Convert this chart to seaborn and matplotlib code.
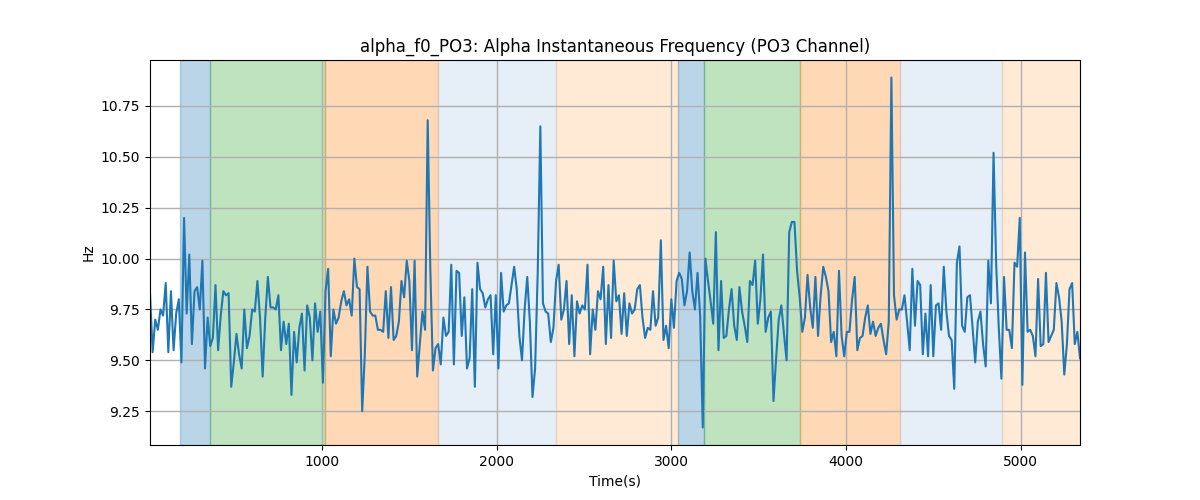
import seaborn as sns
import matplotlib
matplotlib.use("Agg")
import matplotlib.pyplot as plt
import numpy as np
import pandas as pd

# sampling step of the frequency estimate (s)
step = 15

freq = [
    # 0 - 660 s
    9.83, 9.54, 9.70, 9.65, 9.75, 9.72, 9.88, 9.54, 9.84, 9.55, 9.73, 9.80, 9.49, 10.20, 9.73, 10.02,
    9.58, 9.84, 9.86, 9.75, 9.99, 9.46, 9.71, 9.57, 9.61, 9.87, 9.55, 9.72, 9.84, 9.82, 9.83, 9.37,
    9.49, 9.63, 9.53, 9.46, 9.75, 9.56, 9.62, 9.75, 9.74, 9.89, 9.71, 9.42,
    9.71, 9.91, 9.76, 9.76, 9.75, 9.82, 9.55, 9.69, 9.58, 9.68, 9.33, 9.64, 9.49, 9.66, 9.73, 9.45,
    9.77, 9.71, 9.50, 9.78, 9.64, 9.74, 9.39, 9.84, 9.95, 9.52, 9.75, 9.68, 9.71, 9.79, 9.84, 9.77,
    9.80, 9.72, 10.00, 9.86, 9.85, 9.25, 9.53, 9.96, 9.74, 9.72, 9.72, 9.65,
    9.65, 9.64, 9.84, 9.61, 9.86, 9.60, 9.62, 9.69, 9.89, 9.81, 9.99, 9.89, 9.55, 9.99, 9.42, 9.58,
    9.74, 9.65, 10.68, 9.95, 9.45, 9.56, 9.58, 9.48, 9.71, 9.62, 9.64, 9.97, 9.48, 9.94, 9.93, 9.62,
    9.81, 9.46, 9.51, 9.85, 9.37, 9.98, 9.85, 9.83, 9.76, 9.80, 9.82, 9.53,
    9.82, 9.46, 9.93, 9.74, 9.77, 9.78, 9.87, 9.96, 9.85, 9.62, 9.50, 9.75, 9.91, 9.69, 9.32, 9.46,
    9.93, 10.65, 9.78, 9.74, 9.73, 9.59, 9.66, 9.89, 9.97, 9.70, 9.75, 9.89, 9.58, 9.82, 9.52, 9.79,
    9.73, 9.77, 9.75, 9.97, 9.53, 9.75, 9.65, 9.84, 9.80, 9.96, 9.58, 9.87,
    9.61, 9.99, 9.79, 9.82, 9.63, 9.83, 9.62, 9.78, 9.73, 9.75, 9.85, 9.87, 9.71, 9.61, 9.66, 9.65,
    9.84, 9.67, 9.71, 10.09, 9.60, 9.67, 9.56, 9.80, 9.66, 9.89, 9.93, 9.90, 9.77, 9.84, 10.03, 9.84,
    9.75, 9.93, 9.72, 9.17, 10.00, 9.89, 9.79, 9.68, 10.13, 9.55, 9.89, 9.61,
    9.62, 9.75, 9.85, 9.67, 9.60, 9.86, 9.74, 9.67, 9.59, 9.89, 9.87, 9.99, 9.68, 9.80, 10.02, 9.64,
    9.71, 9.74, 9.30, 9.51, 9.70, 9.77, 9.63, 9.50, 10.13, 10.18, 10.18, 9.94, 9.81, 9.64, 9.71, 9.92,
    9.76, 9.66, 9.91, 9.62, 9.82, 9.96, 9.91, 9.84, 9.59, 9.64, 9.52, 9.94,
    9.62, 9.52, 9.64, 9.64, 9.80, 9.91, 9.55, 9.61, 9.62, 9.71, 9.77, 9.63, 9.69, 9.62, 9.66, 9.68,
    9.60, 9.53, 9.69, 10.89, 9.82, 9.70, 9.75, 9.75, 9.82, 9.69, 9.55, 9.95, 9.67, 9.89, 9.87, 9.53,
    9.73, 9.52, 9.87, 9.52, 9.77, 9.78, 9.65, 9.96, 9.74, 9.62, 9.60, 9.36,
    9.98, 10.06, 9.67, 9.64, 9.81, 9.82, 9.66, 9.49, 9.69, 9.74, 9.58, 9.47, 9.99, 9.78, 10.52, 9.97,
    9.66, 9.41, 9.91, 9.65, 9.65, 9.56, 9.98, 9.96, 10.20, 9.38, 10.03, 9.64, 9.65, 9.62, 9.52, 9.90,
    9.57, 9.58, 9.93, 9.59, 9.62, 9.65, 9.88, 9.81, 9.69, 9.43, 9.58, 9.85, 9.88, 9.58, 9.64, 9.51,
]

# stage segments (start, end, colour)
seg_start = [187, 359, 1017, 1664, 2339, 3038, 3187, 3736, 4308, 4892]
seg_end = [359, 1017, 1664, 2339, 3038, 3187, 3736, 4308, 4892, 5340]
seg_color = ["tab:blue", "tab:green", "tab:orange", "#aec7e8", "#ffbb78",
             "tab:blue", "tab:green", "tab:orange", "#aec7e8", "#ffbb78"]

df = pd.DataFrame({"time": step * (np.arange(len(freq)) + 1), "freq": freq})

fig, ax = plt.subplots(figsize=(12, 5), dpi=100)

for s, e, c in zip(seg_start, seg_end, seg_color):
    ax.axvspan(s, e, color=c, alpha=0.3)

sns.lineplot(data=df, x="time", y="freq", ax=ax, color="tab:blue", linewidth=1.5)

ax.set_xlim(df["time"].min(), df["time"].max())
ax.set_title("alpha_f0_PO3: Alpha Instantaneous Frequency (PO3 Channel)")
ax.set_xlabel("Time(s)")
ax.set_ylabel("Hz")
ax.grid(True, color="#b0b0b0", linewidth=1)

plt.savefig("out.png")
